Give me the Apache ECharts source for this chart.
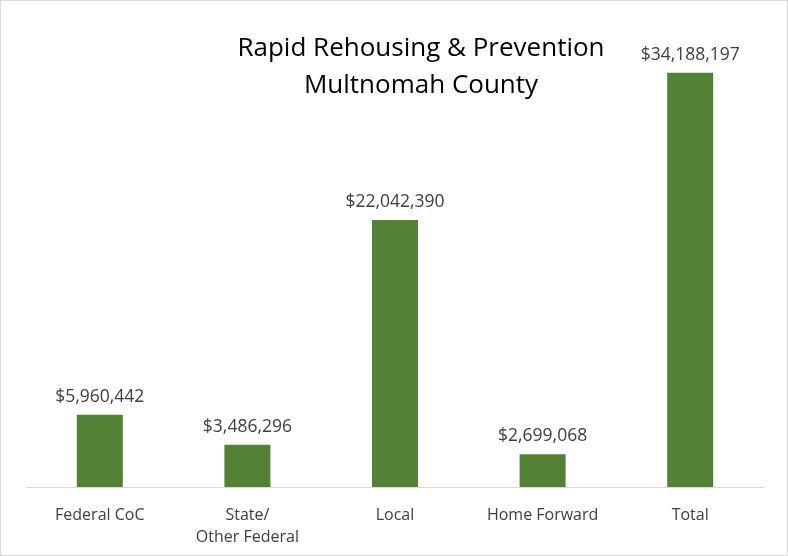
<!DOCTYPE html>
<html><head><meta charset="utf-8">
<script src="https://cdn.jsdelivr.net/npm/echarts@6/dist/echarts.min.js"></script>
<style>html,body{margin:0;padding:0;background:#fff}#c{width:788px;height:556px;box-sizing:border-box;border:1px solid #d9d9d9}</style>
</head><body><div id="c"></div>
<script>
const categories = ['Federal CoC', 'State/\nOther Federal', 'Local', 'Home Forward', 'Total'];
const values = [5960442, 3486296, 22042390, 2699068, 34188197];
const titleLines = ['Rapid Rehousing & Prevention', 'Multnomah County'];

const chart = echarts.init(document.getElementById('c'), null, {renderer: 'canvas'});
const FONT = '"Open Sans", "Liberation Sans", sans-serif';
const titleStyle = {fontFamily: FONT, fontSize: 26, fontWeight: 'normal', color: '#000'};
chart.setOption({
  animation: false,
  title: titleLines.map((t, i) => ({
    text: t, left: 415, top: 30 + i * 37, textAlign: 'center',
    textStyle: titleStyle
  })),
  grid: {left: 25, right: 23, top: 62, bottom: 68, containLabel: false},
  xAxis: {
    type: 'category', data: categories,
    axisLine: {lineStyle: {color: '#d9d9d9', width: 1}},
    axisTick: {show: false},
    axisLabel: {fontFamily: FONT, fontSize: 16, color: '#404040', margin: 17, lineHeight: 22, interval: 0}
  },
  yAxis: {
    type: 'value', min: 0, max: 35000000, show: false,
    splitLine: {show: false}
  },
  series: [{
    type: 'bar', data: values, barWidth: 46,
    itemStyle: {color: '#538135'},
    label: {
      show: true, position: 'top', distance: 9,
      fontFamily: FONT, fontSize: 17.5, color: '#404040',
      formatter: p => '$' + p.value.toLocaleString('en-US')
    }
  }]
});
</script></body></html>
